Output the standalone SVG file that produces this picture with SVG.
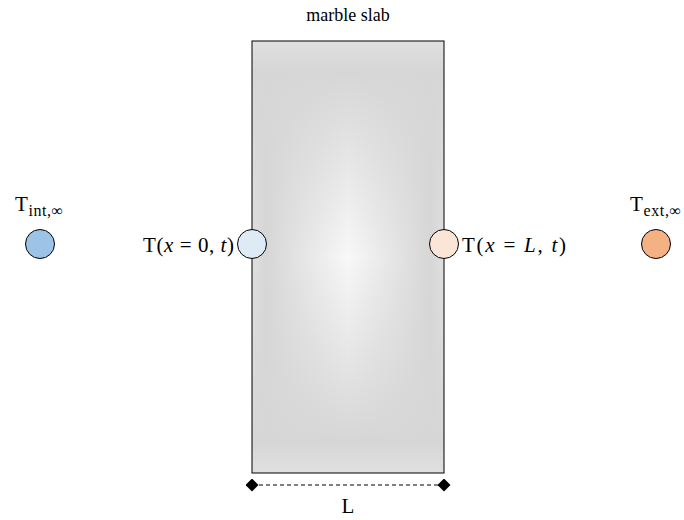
<svg xmlns="http://www.w3.org/2000/svg" width="684" height="520" viewBox="0 0 684 520">
<style>
text{font-family:"Liberation Serif","DejaVu Serif",serif;fill:#000}
.lbl{font-size:21px}
.it{font-style:italic}
.sub{font-size:16px}
.node{stroke:#000;stroke-width:1}
</style>
<defs>
<linearGradient id="mh" x1="0" y1="0" x2="1" y2="0">
<stop offset="0" stop-color="#e0e0e0"/>
<stop offset="0.07" stop-color="#d6d6d6"/>
<stop offset="0.5" stop-color="#f8f8f8"/>
<stop offset="0.93" stop-color="#d6d6d6"/>
<stop offset="1" stop-color="#e0e0e0"/>
</linearGradient>
<linearGradient id="mv" x1="0" y1="0" x2="0" y2="1">
<stop offset="0" stop-color="#e0e0e0" stop-opacity="1"/>
<stop offset="0.07" stop-color="#d6d6d6" stop-opacity="1"/>
<stop offset="0.5" stop-color="#d6d6d6" stop-opacity="0"/>
<stop offset="0.93" stop-color="#d6d6d6" stop-opacity="1"/>
<stop offset="1" stop-color="#e0e0e0" stop-opacity="1"/>
</linearGradient>
<marker id="dia" viewBox="0 0 10 10" refX="5" refY="5" markerWidth="13" markerHeight="13" markerUnits="userSpaceOnUse" orient="auto">
<path d="M0 5 L5 0 L10 5 L5 10 Z" fill="#000"/>
</marker>
</defs>
<g id="slab">
<rect x="252" y="41" width="192" height="432" fill="url(#mh)"/>
<rect x="252" y="41" width="192" height="432" fill="url(#mv)" stroke="#000" stroke-width="1"/>
<text x="348" y="21" font-size="18" text-anchor="middle">marble slab</text>
</g>
<g id="connectors">
<line x1="252" y1="485" x2="444" y2="485" stroke="#000" stroke-width="1" stroke-dasharray="4 3" marker-start="url(#dia)" marker-end="url(#dia)"/>
<text class="lbl" x="348" y="513" text-anchor="middle">L</text>
</g>
<g id="t-int">
<circle class="node" cx="40" cy="244" r="14.5" fill="#9dc3e6"/>
<text class="lbl" x="15" y="211" textLength="48" lengthAdjust="spacing">T<tspan class="sub" dy="5">int,∞</tspan></text>
</g>
<g id="t-left">
<circle class="node" cx="252" cy="244" r="14.5" fill="#deebf7"/>
<text class="lbl" x="143" y="252" textLength="91" lengthAdjust="spacing">T(<tspan class="it">x</tspan> = 0, <tspan class="it">t</tspan>)</text>
</g>
<g id="t-right">
<circle class="node" cx="444" cy="244" r="14.5" fill="#fbe5d6"/>
<text class="lbl" x="462" y="252" textLength="104" lengthAdjust="spacing">T(<tspan class="it">x</tspan> = <tspan class="it">L</tspan>, <tspan class="it">t</tspan>)</text>
</g>
<g id="t-ext">
<circle class="node" cx="656" cy="244" r="14.5" fill="#f4b183"/>
<text class="lbl" x="630" y="211" textLength="51" lengthAdjust="spacing">T<tspan class="sub" dy="5">ext,∞</tspan></text>
</g>
</svg>
